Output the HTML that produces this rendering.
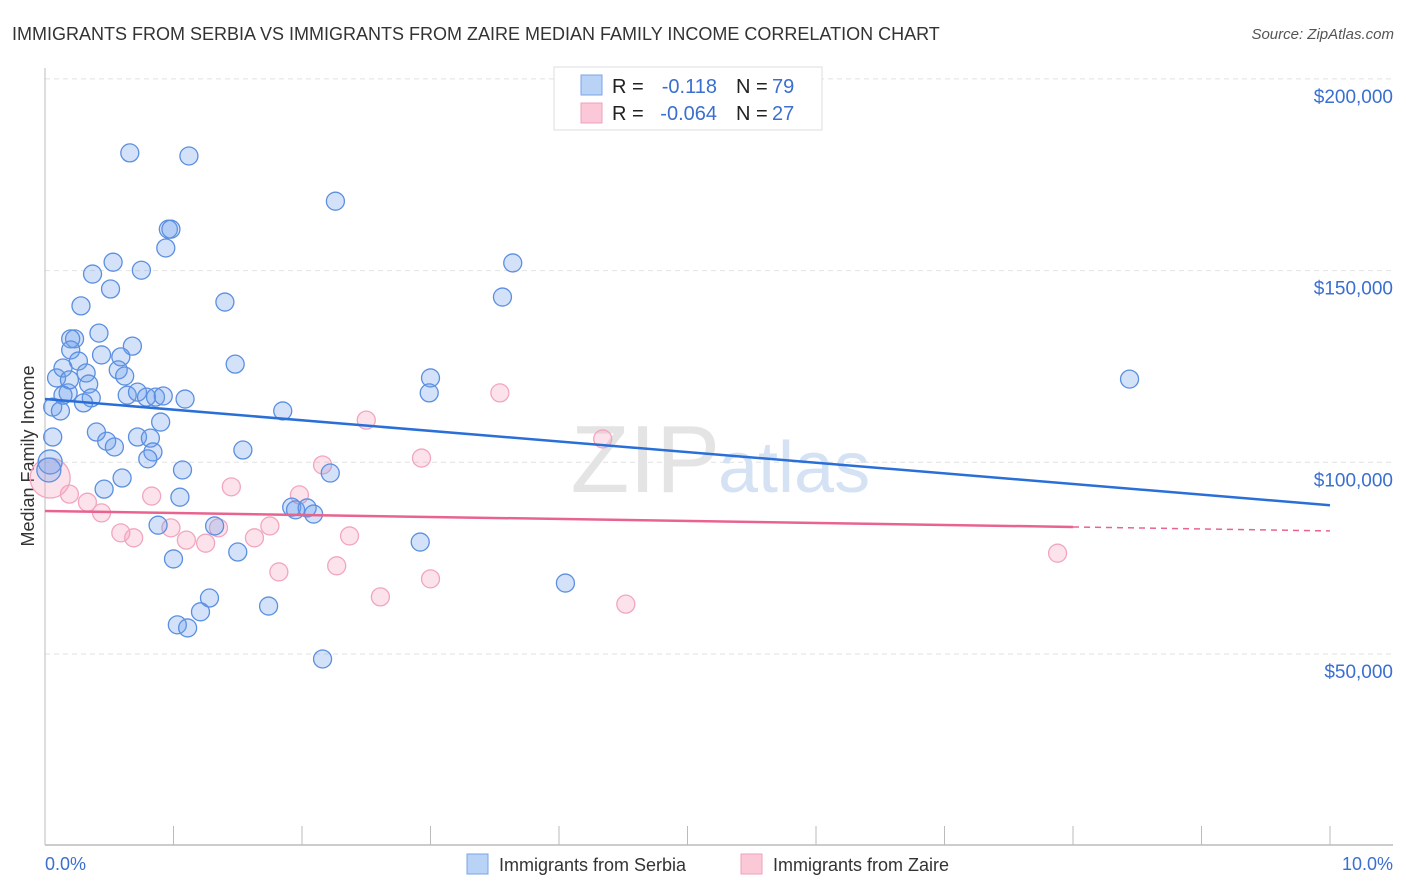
<!DOCTYPE html>
<html><head><meta charset="utf-8"><style>
body{margin:0;background:#fff;font-family:"Liberation Sans",sans-serif;}
#wrap{position:relative;width:1406px;height:892px;overflow:hidden;}
svg text{font-family:"Liberation Sans",sans-serif;}
</style></head><body>
<div id="wrap">
<svg id="chart" width="1406" height="892">
<text x="12" y="40" font-size="18" fill="#333">IMMIGRANTS FROM SERBIA VS IMMIGRANTS FROM ZAIRE MEDIAN FAMILY INCOME CORRELATION CHART</text>
<text x="1394" y="39" font-size="15" fill="#555" text-anchor="end" font-style="italic">Source: ZipAtlas.com</text>
<text x="34" y="456" font-size="18" fill="#333" text-anchor="middle" transform="rotate(-90 34 456)">Median Family Income</text>
<g id="grid"></g>
<text x="720" y="492" font-size="96" fill="#e4e4e4" text-anchor="end" font-family="Liberation Serif">ZIP</text>
<text x="718" y="492" font-size="72" fill="#d4e2f4">atlas</text>
<g id="marks"></g>
<g>
<rect x="554" y="67" width="268" height="63" fill="#fff" stroke="#ddd"/>
<rect x="581" y="75" width="21" height="20" fill="#b8d3f5" stroke="#7aa6e6"/>
<rect x="581" y="103" width="21" height="20" fill="#fbc8d7" stroke="#f0a0b8"/>
<text x="612" y="93" font-size="20" fill="#222">R =</text>
<text x="717" y="93" font-size="20" fill="#3a6fd0" text-anchor="end">-0.118</text>
<text x="736" y="93" font-size="20" fill="#222">N =</text>
<text x="772" y="93" font-size="20" fill="#3a6fd0">79</text>
<text x="612" y="120" font-size="20" fill="#222">R =</text>
<text x="717" y="120" font-size="20" fill="#3a6fd0" text-anchor="end">-0.064</text>
<text x="736" y="120" font-size="20" fill="#222">N =</text>
<text x="772" y="120" font-size="20" fill="#3a6fd0">27</text>
</g>
<text x="45" y="870" font-size="18" fill="#3a6fd0">0.0%</text>
<text x="1393" y="870" font-size="18" fill="#3a6fd0" text-anchor="end">10.0%</text>
<rect x="467" y="854" width="21" height="20" fill="#b8d3f5" stroke="#7aa6e6"/>
<text x="499" y="871" font-size="18" fill="#333">Immigrants from Serbia</text>
<rect x="741" y="854" width="21" height="20" fill="#fbc8d7" stroke="#f0a0b8"/>
<text x="773" y="871" font-size="18" fill="#333">Immigrants from Zaire</text>
</svg>
</div>
<script>
const yTicks=[50000,100000,150000,200000];
const yTickLabels=["$50,000","$100,000","$150,000","$200,000"];
const xTicks=[0,1,2,3,4,5,6,7,8,9,10];
const serbiaX=[.66,1.12,2.26,.96,.98,.94,3.64,.53,.75,.37,.51,3.56,.28,1.40,.42,.23,.20,.68,.20,.44,.59,.26,1.48,.57,.32,.62,.09,.14,3.00,8.44,.34,.18,.64,.72,.79,.86,.92,2.99,1.09,.36,.30,.06,.12,1.85,.90,.40,.06,.72,.82,.48,.54,.84,1.54,.80,.04,1.07,2.22,.60,.46,1.05,.88,1.32,1.92,1.95,2.04,2.09,2.92,1.50,1.00,4.05,1.28,1.21,1.74,1.03,1.11,2.16,.03,.19,.14];
const serbiaY=[180.7,179.9,168.1,160.8,160.8,155.9,152.0,152.2,150.1,149.1,145.2,143.1,140.8,141.8,133.7,132.2,132.2,130.3,129.3,128.0,127.5,126.4,125.6,124.1,123.3,122.5,122.0,124.6,122.0,121.7,120.4,118.1,117.5,118.3,117.0,117.0,117.3,118.1,116.5,116.8,115.5,114.4,113.4,113.4,110.5,107.9,106.6,106.6,106.3,105.5,104.0,102.7,103.2,100.9,100.1,98.0,97.2,95.9,93.0,90.9,83.6,83.4,88.3,87.6,88.1,86.5,79.2,76.6,74.8,68.5,64.6,61.0,62.5,57.6,56.8,48.7,98.0,121.5,117.5];
const zaireX=[.04,.19,.33,.44,.59,.69,.98,.83,1.10,1.25,1.35,1.45,1.63,1.75,1.82,1.98,2.16,2.27,2.37,2.50,2.61,2.93,3.00,3.54,4.34,4.52,7.88];
const zaireY=[95.9,91.7,89.6,86.8,81.6,80.3,82.9,91.2,79.7,78.9,82.9,93.6,80.3,83.4,71.4,91.5,99.3,73.0,80.8,111.0,64.9,101.1,69.6,118.1,106.1,63.0,76.3];
const serbiaTrend=[116.5,88.8];
const zaireTrend=[87.3,82.1];
const zaireSolidEnd=8;
const NS="http://www.w3.org/2000/svg";
const X=v=>45+v*128.5;
const Y=v=>654-(v-50)*191.7/50;
function mk(t,a,p){const e=document.createElementNS(NS,t);for(const k in a)e.setAttribute(k,a[k]);p.appendChild(e);return e;}
const grid=document.getElementById('grid');
yTicks.forEach((t,i)=>{
 const l=mk('line',{x1:45,x2:1393,y1:Y(t/1000),y2:Y(t/1000),stroke:'#e2e2e2','stroke-dasharray':'5,4'},grid);
 
 
 const tx=mk('text',{x:1393,y:Y(t/1000)+24,'font-size':19,fill:'#3a6fd0','text-anchor':'end'},grid);
 tx.textContent=yTickLabels[i];
 
 
});
const ax=mk('line',{x1:45,x2:45,y1:68,y2:845,stroke:'#bbb'},grid);


const bx=mk('line',{x1:45,x2:1393,y1:845,y2:845,stroke:'#bbb','stroke-width':1.5},grid);


xTicks.forEach(t=>{
 const l=mk('line',{x1:X(t),x2:X(t),y1:826,y2:845,stroke:'#bbb'},grid);
 
 
});
const marks=document.getElementById('marks');
zaireX.forEach((x,i)=>{
 const c=mk('circle',{cx:X(x),cy:Y(zaireY[i]),r:i===0?20:9,fill:'rgba(246,160,190,0.3)',stroke:'#f2a6be','stroke-width':1.3},marks);
 
 
});
serbiaX.forEach((x,i)=>{
 const c=mk('circle',{cx:X(x),cy:Y(serbiaY[i]),r:(i===54||i===76)?12:9,fill:'rgba(110,160,235,0.3)',stroke:'#5b8fe0','stroke-width':1.3},marks);
 
 
});
const bl=mk('line',{x1:X(0),y1:Y(serbiaTrend[0]),x2:X(10),y2:Y(serbiaTrend[1]),stroke:'#2a6fd8','stroke-width':2.5},marks);


const zm=zaireTrend[0]+(zaireTrend[1]-zaireTrend[0])*zaireSolidEnd/10;
const pl=mk('line',{x1:X(0),y1:Y(zaireTrend[0]),x2:X(zaireSolidEnd),y2:Y(zm),stroke:'#e8648f','stroke-width':2.5},marks);


const pd=mk('line',{x1:X(zaireSolidEnd),y1:Y(zm),x2:X(10),y2:Y(zaireTrend[1]),stroke:'#e8648f','stroke-width':1.5,'stroke-dasharray':'6,5'},marks);


</script>
</body></html>
